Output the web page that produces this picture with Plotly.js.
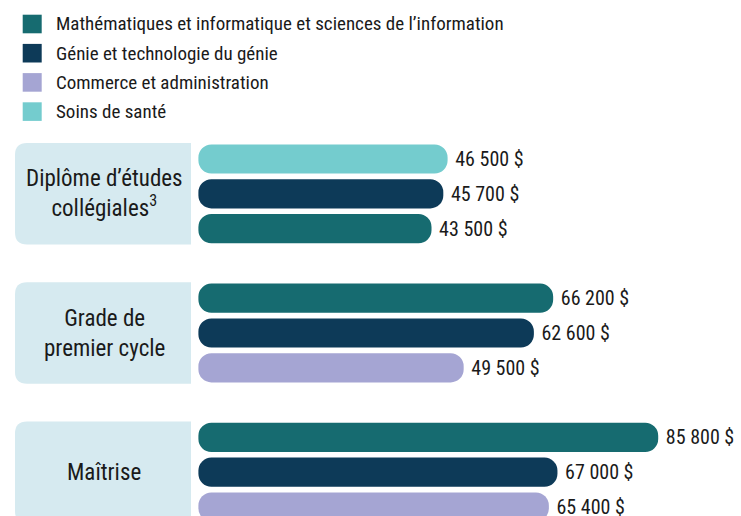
<!DOCTYPE html>
<html>
<head>
<meta charset="utf-8">
<script src="https://cdn.plot.ly/plotly-3.0.1.min.js"></script>
<style>html,body{margin:0;padding:0;background:#fff;}#chart{width:741px;height:516px;}</style>
</head>
<body>
<div id="chart"></div>
<script>
// ---- Data ----
const categories = ["Diplôme d’études<br>collégiales<sup>3</sup>", "Grade de<br>premier cycle", "Maîtrise"];
const seriesNames = [
  "Mathématiques et informatique et sciences de l’information",
  "Génie et technologie du génie",
  "Commerce et administration",
  "Soins de santé"
];
const mathValues = [43500, 66200, 85800];
const genieValues = [45700, 62600, 67000];
const commerceValues = [null, 49500, 65400];
const santeValues = [46500, null, null];
const seriesColors = ["#166b70", "#0d3a58", "#a5a5d3", "#74ccce"];

// ---- Layout helpers ----
const W = 741, H = 516;
const FONT = '"Roboto Condensed", "Liberation Sans Narrow", "Arial Narrow", "DejaVu Sans Condensed", Roboto, sans-serif';
const TXT = "#1a1a1a";
const allSeries = [mathValues, genieValues, commerceValues, santeValues];
const SLOTS_PER_GROUP = 4;

// rank bars within each group by descending value
const slotOf = allSeries.map(() => categories.map(() => null));
const groupCounts = [];
categories.forEach((c, g) => {
  const present = allSeries.map((s, i) => ({i, v: s[g]})).filter(d => d.v !== null);
  present.sort((a, b) => b.v - a.v);
  present.forEach((d, r) => { slotOf[d.i][g] = g * SLOTS_PER_GROUP + r; });
  groupCounts.push(present.length);
});

function fmt(v) {
  return "\u00a0" + String(v).replace(/\B(?=(\d{3})+(?!\d))/g, "\u00a0") + "\u00a0$";
}

const traces = allSeries.map((vals, i) => {
  const x = [], y = [], text = [];
  vals.forEach((v, g) => {
    if (v === null) return;
    x.push(v); y.push(slotOf[i][g]); text.push(fmt(v));
  });
  return {
    type: "bar", orientation: "h", name: seriesNames[i],
    x: x, y: y, base: 0, width: 0.84,
    marker: {color: seriesColors[i], cornerradius: 13, line: {width: 0}},
    text: text, textposition: "outside", constraintext: "none", cliponaxis: false,
    textfont: {family: FONT, size: 20, color: TXT},
    hoverinfo: "skip", showlegend: false
  };
});

// rounded-left category boxes
const shapes = [];
const annotations = [];
const bx0 = 15 / W, bx1 = 191 / W, rx = 12 / W, ry = 12 / 34.8;
categories.forEach((c, g) => {
  const y0 = g * SLOTS_PER_GROUP - 0.46;
  const y1 = g * SLOTS_PER_GROUP + groupCounts[g] - 1 + 0.46;
  shapes.push({
    type: "path", xref: "paper", yref: "y", layer: "below",
    path: `M${bx1},${y0} L${bx0 + rx},${y0} Q${bx0},${y0} ${bx0},${y0 + ry} L${bx0},${y1 - ry} Q${bx0},${y1} ${bx0 + rx},${y1} L${bx1},${y1} Z`,
    fillcolor: "#d6eaf0", line: {width: 0}
  });
  annotations.push({
    xref: "paper", yref: "y", x: 104 / W, y: (y0 + y1) / 2,
    text: c, showarrow: false, xanchor: "center", yanchor: "middle", align: "center",
    font: {family: FONT, size: 23, color: TXT}
  });
});

// legend (squares + labels)
seriesNames.forEach((n, i) => {
  const cy = 24 + 29.2 * i;
  shapes.push({
    type: "rect", xref: "paper", yref: "paper",
    x0: 22.7 / W, x1: 41.7 / W, y0: 1 - (cy - 9.3) / H, y1: 1 - (cy + 9.3) / H,
    fillcolor: seriesColors[i], line: {width: 0}
  });
  annotations.push({
    xref: "paper", yref: "paper", x: 54 / W, y: 1 - cy / H,
    text: n, showarrow: false, xanchor: "left", yanchor: "middle",
    font: {family: FONT, size: 19, color: TXT}
  });
});

// pixel scale: x=0 at 198.4 px, 186.6 $ per px; slot pitch 34.8 px with slot 0 at 159 px
const x0px = 198.4, dpp = 186.6, yTop = 159, pitch = 34.8;
const layout = {
  width: W, height: H,
  margin: {l: 0, r: 0, t: 0, b: 0, pad: 0},
  paper_bgcolor: "#ffffff", plot_bgcolor: "#ffffff",
  xaxis: {range: [-x0px * dpp, (W - x0px) * dpp], visible: false, fixedrange: true},
  yaxis: {range: [(H - yTop) / pitch, -yTop / pitch], visible: false, fixedrange: true},
  barmode: "overlay",
  shapes: shapes, annotations: annotations,
  showlegend: false,
  font: {family: FONT, color: TXT}
};

Plotly.newPlot("chart", traces, layout, {displayModeBar: false, staticPlot: true});
</script>
</body>
</html>
